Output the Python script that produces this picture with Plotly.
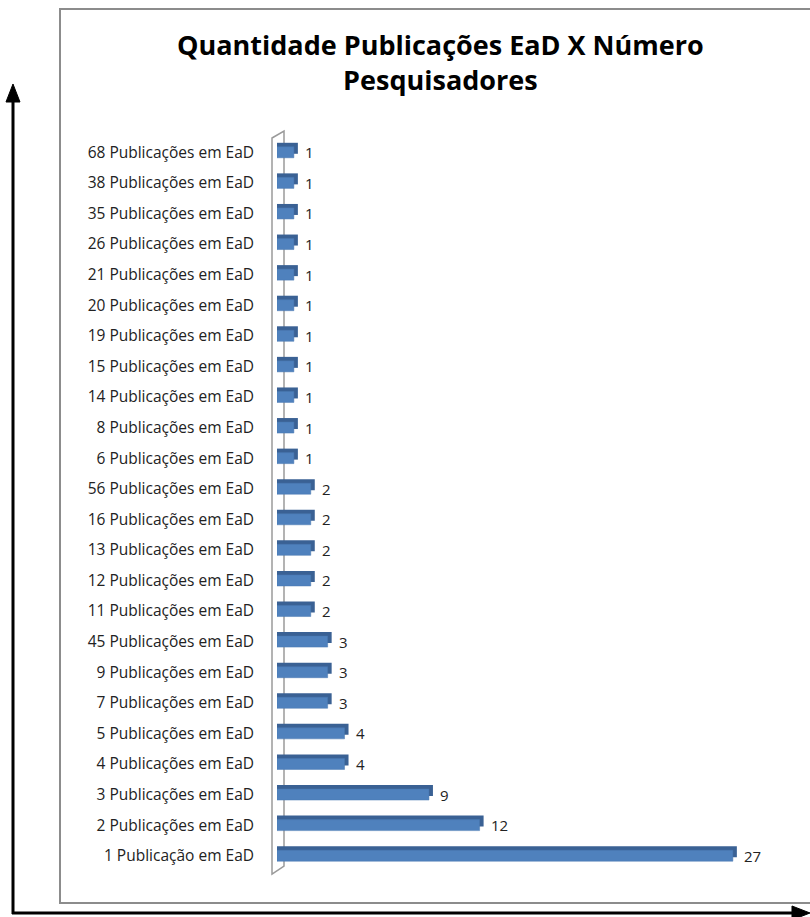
import plotly.graph_objects as go

categories = [
    "1 Publicação em EaD", "2 Publicações em EaD", "3 Publicações em EaD",
    "4 Publicações em EaD", "5 Publicações em EaD", "7 Publicações em EaD",
    "9 Publicações em EaD", "45 Publicações em EaD", "11 Publicações em EaD",
    "12 Publicações em EaD", "13 Publicações em EaD", "16 Publicações em EaD",
    "56 Publicações em EaD", "6 Publicações em EaD", "8 Publicações em EaD",
    "14 Publicações em EaD", "15 Publicações em EaD", "19 Publicações em EaD",
    "20 Publicações em EaD", "21 Publicações em EaD", "26 Publicações em EaD",
    "35 Publicações em EaD", "38 Publicações em EaD", "68 Publicações em EaD",
]
values = [27, 12, 9, 4, 4, 3, 3, 3, 2, 2, 2, 2, 2, 1, 1, 1, 1, 1, 1, 1, 1, 1, 1, 1]
title_text = "Quantidade Publicações EaD X Número<br>Pesquisadores"

W, H = 810, 917
L, R, T, B = 277, 40, 137, 46
PW, PH = W - L - R, H - T - B
XMAX = 29.2
UNIT_PX = PW / XMAX
ROW_PX = PH / len(categories)


def px_x(px):
    return (px - L) / PW


def px_y(py):
    return (H - B - py) / PH


def path(points):
    s = "M " + " L ".join(f"{px_x(x):.5f},{px_y(y):.5f}" for x, y in points)
    return s + " Z"


FONT = "Open Sans"
depth = 4 / UNIT_PX
lift = 4 / ROW_PX
fw = 11 / ROW_PX

fig = go.Figure()
# back/side faces (darker)
fig.add_trace(go.Bar(
    y=categories, x=[v + depth for v in values], orientation="h",
    width=fw, offset=-fw / 2 + lift,
    marker=dict(color="#3A6194", line=dict(width=0)),
    hoverinfo="skip",
))
# front faces
fig.add_trace(go.Bar(
    y=categories, x=values, orientation="h",
    width=fw, offset=-fw / 2,
    marker=dict(color="#4F81BD", line=dict(color="#4A78B0", width=0.5)),
    hoverinfo="x+y",
))

shapes = [
    # chart box
    dict(type="rect", xref="paper", yref="paper",
         x0=px_x(60), x1=px_x(822), y0=px_y(903), y1=px_y(9),
         line=dict(color="#8C8C8C", width=2), layer="below"),
    # wall
    dict(type="path", xref="paper", yref="paper",
         path=path([(272, 138), (284, 131), (284, 866), (272, 874)]),
         line=dict(color="#9A9A9A", width=1.5), fillcolor="white", layer="below"),
    # vertical arrow
    dict(type="line", xref="paper", yref="paper",
         x0=px_x(13), x1=px_x(13), y0=px_y(914), y1=px_y(100),
         line=dict(color="black", width=3)),
    dict(type="path", xref="paper", yref="paper",
         path=path([(13, 84), (6, 102), (20, 102)]),
         fillcolor="black", line=dict(color="black", width=1)),
    # horizontal arrow
    dict(type="line", xref="paper", yref="paper",
         x0=px_x(12), x1=px_x(795), y0=px_y(913), y1=px_y(913),
         line=dict(color="black", width=3)),
    dict(type="path", xref="paper", yref="paper",
         path=path([(810, 913), (792, 906), (792, 920)]),
         fillcolor="black", line=dict(color="black", width=1)),
]

annotations = [dict(
    text="<b>" + title_text + "</b>", xref="paper", yref="paper",
    x=px_x(440), y=px_y(62), xanchor="center", yanchor="middle",
    showarrow=False, font=dict(family=FONT, size=27, color="black"),
)]
for c, v in zip(categories, values):
    annotations.append(dict(
        text=str(v), x=v, y=c, xref="x", yref="y",
        xanchor="left", yanchor="middle", xshift=9, yshift=0,
        showarrow=False, font=dict(family=FONT, size=15, color="#222222"),
    ))

fig.update_layout(
    width=W, height=H,
    margin=dict(l=L, r=R, t=T, b=B),
    paper_bgcolor="white", plot_bgcolor="rgba(0,0,0,0)",
    barmode="overlay", showlegend=False,
    font=dict(family=FONT, color="#222222"),
    shapes=shapes,
    annotations=annotations,
    xaxis=dict(range=[0, XMAX], visible=False),
    yaxis=dict(type="category", categoryorder="array", categoryarray=categories,
               range=[-0.5, len(categories) - 0.5],
               showgrid=False, zeroline=False, showline=False, ticks="",
               ticklabelstandoff=22,
               tickfont=dict(family=FONT, size=15.5, color="#222222")),
)

fig.write_html("out.html")
